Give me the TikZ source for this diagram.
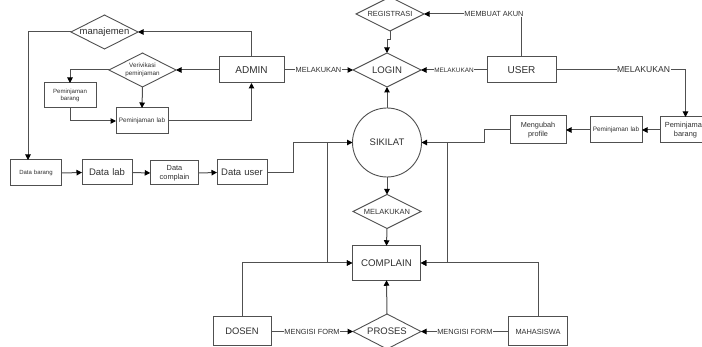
\documentclass[tikz,border=0pt]{standalone}
\usepackage{fontspec}
\setmainfont{Liberation Sans}
\usetikzlibrary{shapes.geometric,arrows.meta}
\newcommand{\fsz}[1]{\fontsize{#1}{\dimexpr #1pt*5/4\relax}\selectfont}
\definecolor{ln}{HTML}{505050}
\definecolor{tx}{HTML}{303030}
\tikzset{
  box/.style={draw=ln,line width=1pt,rectangle,inner sep=0pt,outer sep=0pt,text=tx,align=center},
  dia/.style={draw=ln,line width=0.9pt,diamond,aspect=2,inner sep=0pt,outer sep=0pt,minimum width=68pt,minimum height=34pt},
  dt/.style={text=tx,inner sep=0pt,align=center},
  conn/.style={draw=ln,line width=1pt,-{Triangle[length=5.5pt,width=5.5pt,color=black]}},
  lab/.style={fill=white,text=tx,inner sep=0.5pt,font=\fsz{7.4}},
  sz/.style n args={4}{minimum width=#1pt,minimum height=#2pt,font=\fsz{#3},text width=#4pt}
}
\begin{document}
\begin{tikzpicture}[x=1pt,y=-1pt]
\clip (0,0) rectangle (702,347);
\fill[white] (0,0) rectangle (702,347);
% diamonds
\node[dia,minimum width=67pt,label={[dt,font=\fsz{9.5}]center:manajemen}] (man) at (104.5,32) {};
\node[dia,minimum width=67pt,label={[dt,font=\fsz{6.3}]center:Verivikasi\\peminjaman}] (ver) at (142.5,70) {};
\node[dia,label={[dt,font=\fsz{7.4}]center:REGISTRASI}] (reg) at (390,14) {};
\node[dia,label={[dt,font=\fsz{9.6}]center:LOGIN}] (login) at (387,70) {};
\node[dia,label={[dt,font=\fsz{7.5}]center:MELAKUKAN}] (mel) at (387,211.5) {};
\node[dia,minimum height=35pt,label={[dt,font=\fsz{9.5}]center:PROSES}] (pros) at (387,331.5) {};
% circle
\node[draw=ln,line width=0.9pt,circle,minimum size=69pt,inner sep=0pt,outer sep=0pt,text=tx,font=\fsz{9.5}] (sik) at (387,142.5) {SIKILAT};
% boxes
\node[box,sz={65}{26}{10}{60}] (admin) at (251.5,70) {ADMIN};
\node[box,sz={69}{26}{10}{60}] (user) at (521.5,70) {USER};
\node[box,sz={52}{25}{6.1}{48}] (pbar) at (70,95.5) {Peminjaman\\barang};
\node[box,sz={52}{26}{6.4}{50}] (plab) at (142,121) {Peminjaman lab};
\node[box,sz={51.5}{26}{6}{48}] (dbar) at (36,173) {Data barang};
\node[box,sz={50}{25}{9.5}{48}] (dlab) at (107,172.5) {Data lab};
\node[box,sz={48.5}{24}{7.4}{46}] (dcom) at (174.5,173) {Data\\complain};
\node[box,sz={50}{25}{9.5}{48}] (duser) at (242,172.5) {Data user};
\node[box,sz={51}{26}{7.4}{50}] (pbr) at (685.5,130) {Peminjaman\\barang};
\node[box,sz={52}{26}{6.4}{50}] (plr) at (616,130) {Peminjaman lab};
\node[box,sz={56}{28}{7.3}{54}] (mp) at (538,130) {Mengubah\\profile};
\node[box,sz={68.5}{34.5}{9.7}{66}] (comp) at (386.5,263) {COMPLAIN};
\node[box,sz={58}{29}{9.4}{56}] (dosen) at (242,331.5) {DOSEN};
\node[box,sz={58.5}{29}{7.4}{56}] (mhs) at (538,331.5) {MAHASISWA};
% junctions
\coordinate (jl) at (327,142.5);
\coordinate (jr) at (447,142.5);
\coordinate (dbin) at (28,160);
% admin side
\draw[conn] (admin.north) |- (man.east);
\draw[conn] (admin.west) -- (ver.east);
\draw[conn] (ver.west) -| (pbar.north);
\draw[conn] (ver.south) -- (plab.north);
\draw[conn] (pbar.south) |- (plab.west);
\draw[conn] (plab.east) -| (admin.south);
\draw[conn] (man.west) -| (dbin);
\draw[conn] (dbar.east) -- (dlab.west);
\draw[conn] (dlab.east) -- (dcom.west);
\draw[conn] (dcom.east) -- (duser.west);
\draw[conn] (duser.east) -- ++(26,0) |- (sik.west);
\draw[conn] (admin.east) -- node[lab]{MELAKUKAN} (login.west);
% centre
\draw[conn] (sik.north) -- (login.south);
\draw[conn] (reg.south) -- ++(0,9) -| (login.north);
\draw[conn] (sik.south) -- (mel.north);
\draw[conn] (mel.south) -- (comp.north);
\draw[conn] (pros.north) -- (comp.south);
\draw[conn] (jl) |- (comp.west);
\draw[conn] (jr) |- (comp.east);
\draw[conn] (dosen.north) |- (comp.west);
\draw[conn] (mhs.north) |- (comp.east);
\draw[conn] (dosen.east) -- node[lab]{MENGISI FORM} (pros.west);
\draw[conn] (mhs.west) -- node[lab]{MENGISI FORM} (pros.east);
% user side
\draw[conn] (user.west) -- node[lab,font=\fsz{6.4}]{MELAKUKAN} (login.east);
\draw[conn] (user.north) |- node[lab,pos=0.641]{MEMBUAT AKUN} (reg.east);
\draw[conn] (user.east) -| node[lab,pos=0.338,font=\fsz{8.6}]{MELAKUKAN} (pbr.north);
\draw[conn] (pbr.west) -- (plr.east);
\draw[conn] (plr.west) -- (mp.east);
\draw[conn] (mp.west) -- ++(-26,0) |- (sik.east);
\end{tikzpicture}
\end{document}
